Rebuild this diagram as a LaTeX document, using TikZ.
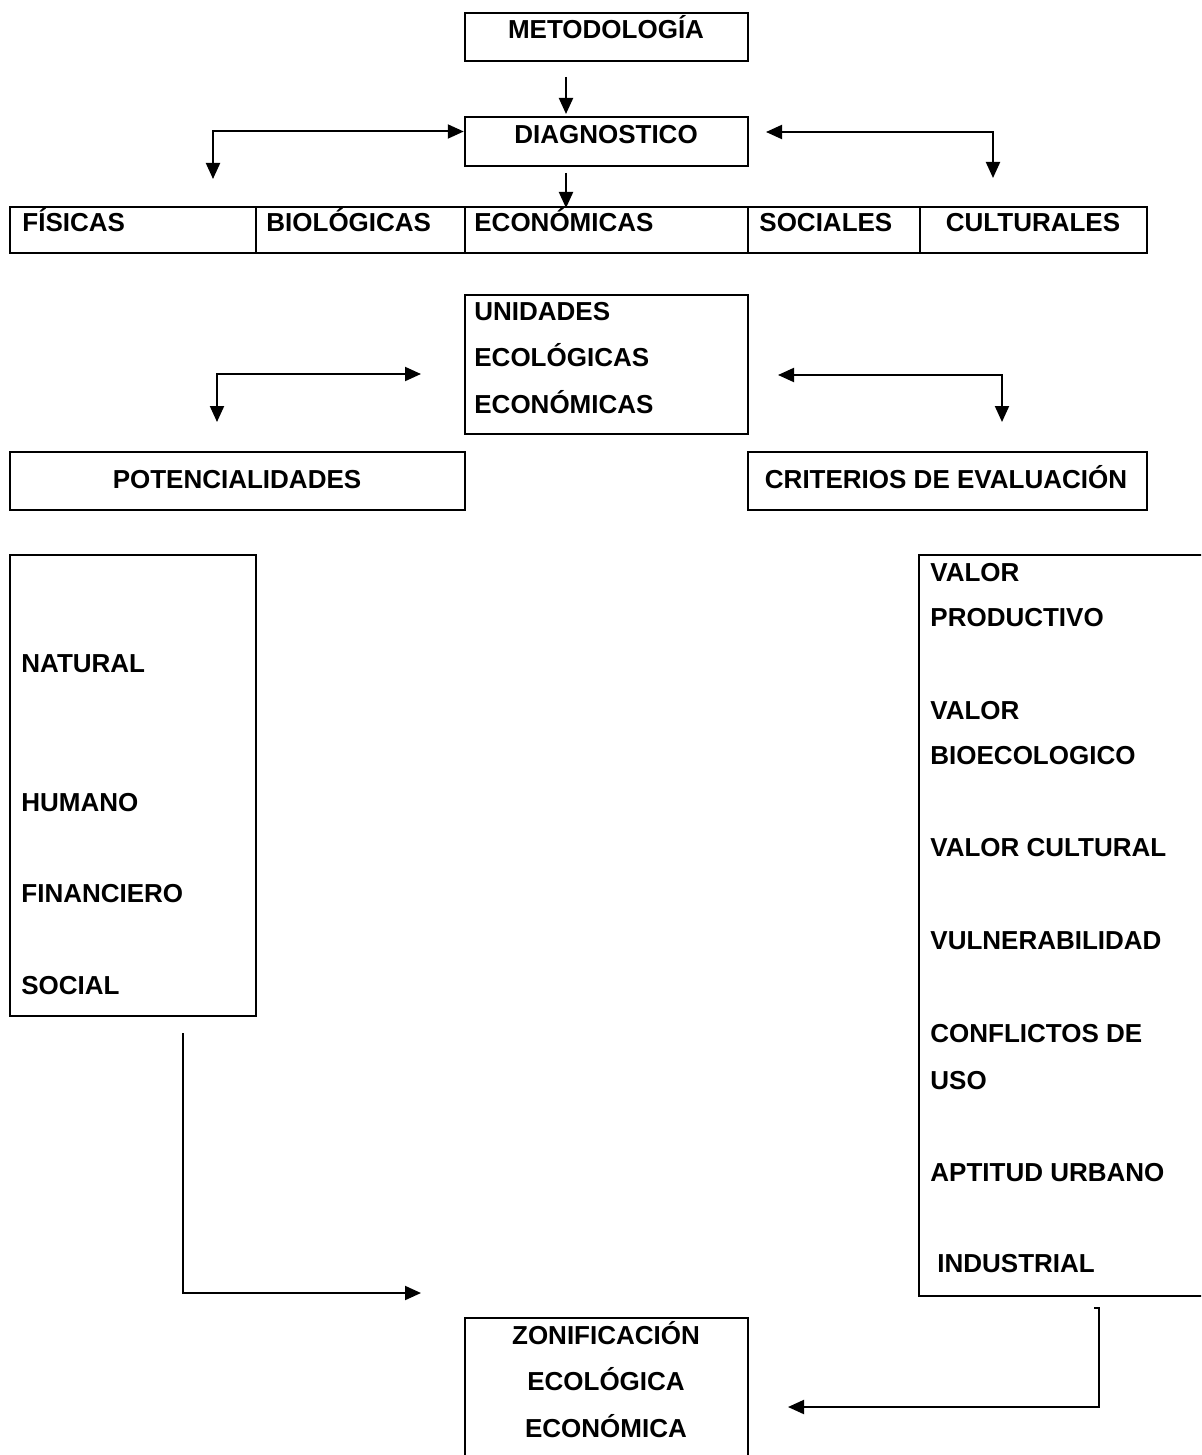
\documentclass[tikz,border=0pt]{standalone}
\usepackage{fontspec}
\setmainfont{Liberation Sans}
\usetikzlibrary{arrows.meta,fit}

\begin{document}
\begin{tikzpicture}[x=0.5pt,y=-0.5pt,
	caja/.style={draw, line width=1.25pt, inner sep=0pt},
	txt/.style={inner sep=0pt, font=\fontsize{13}{15}\selectfont\bfseries, anchor=base west},
	txtc/.style={txt, anchor=base},
	flecha/.style={line width=1pt, -{Triangle[length=8pt,width=7pt]}},
	ambas/.style={line width=1pt, {Triangle[length=8pt,width=7pt]}-{Triangle[length=8pt,width=7pt]}}]

\useasboundingbox (0,0) rectangle (1201,1455);
\clip (0,0) rectangle (1201,1455);

%boxes
\node[caja, fit={(465,13) (748,61)}] (met) {};
\node[caja, fit={(465,117) (748,166)}] (diag) {};
\node[caja, fit={(10,207) (256,253)}] (fis) {};
\node[caja, fit={(256,207) (465,253)}] (bio) {};
\node[caja, fit={(465,207) (748,253)}] (eco) {};
\node[caja, fit={(748,207) (920,253)}] (soc) {};
\node[caja, fit={(920,207) (1147,253)}] (cul) {};
\node[caja, fit={(465,295) (748,434)}] (unid) {};
\node[caja, fit={(10,452) (465,510)}] (pot) {};
\node[caja, fit={(748,452) (1147,510)}] (crit) {};
\node[caja, fit={(10,555) (256,1016)}] (potl) {};
\node[caja, fit={(919,555) (1240,1296)}] (critl) {};
\node[caja, fit={(465,1318) (748,1480)}] (zon) {};

%texts
\node[txtc] (metT) at (606,39) {METODOLOGÍA};
\node[txtc] (diagT) at (606,144) {DIAGNOSTICO};
\node[txt] (fisT) at (22,232) {FÍSICAS};
\node[txt] (bioT) at (266,232) {BIOLÓGICAS};
\node[txt] (ecoT) at (474,232) {ECONÓMICAS};
\node[txt] (socT) at (759,232) {SOCIALES};
\node[txtc] (culT) at (1033,232) {CULTURALES};
\node[txt] (unid1) at (474,320) {UNIDADES};
\node[txt] (unid2) at (474,366) {ECOLÓGICAS};
\node[txt] (unid3) at (474,413) {ECONÓMICAS};
\node[txtc] (potT) at (237,488) {POTENCIALIDADES};
\node[txtc] (critT) at (946,488) {CRITERIOS DE EVALUACIÓN};

\node[txt] (nat) at (21,672) {NATURAL};
\node[txt] (hum) at (21,811) {HUMANO};
\node[txt] (fin) at (21,902) {FINANCIERO};
\node[txt] (soci) at (21,994) {SOCIAL};

\node[txt] (vp1) at (930,581) {VALOR};
\node[txt] (vp2) at (930,626) {PRODUCTIVO};
\node[txt] (vb1) at (930,719) {VALOR};
\node[txt] (vb2) at (930,764) {BIOECOLOGICO};
\node[txt] (vc) at (930,856) {VALOR CULTURAL};
\node[txt] (vul) at (930,949) {VULNERABILIDAD};
\node[txt] (cu1) at (930,1042) {CONFLICTOS DE};
\node[txt] (cu2) at (930,1089) {USO};
\node[txt] (apt) at (930,1181) {APTITUD URBANO};
\node[txt] (ind) at (937,1272) {INDUSTRIAL};

\node[txtc] (zon1) at (606,1344) {ZONIFICACIÓN};
\node[txtc] (zon2) at (606,1390) {ECOLÓGICA};
\node[txtc] (zon3) at (606,1437) {ECONÓMICA};

%free ends of the connectors
\coordinate (m1) at (566,77);
\coordinate (m2) at (566,114);
\coordinate (d1) at (566,173);
\coordinate (d2) at (566,208);
\coordinate (dl) at (213,179);
\coordinate (dr1) at (766,132);
\coordinate (dr) at (993,178);
\coordinate (ul1) at (421,374);
\coordinate (ul) at (217,422);
\coordinate (ur1) at (778,375);
\coordinate (ur) at (1002,422);
\coordinate (pl1) at (183,1033);
\coordinate (pl2) at (421,1293);
\coordinate (cl1) at (1094,1308);
\coordinate (cl2) at (1099,1407);
\coordinate (cl3) at (788,1407);

%connectors
\draw[flecha] (m1) -- (m2);
\draw[flecha] (d1) -- (d2);
\draw[ambas] ([yshift=5pt]diag.west) -| (dl);
\draw[ambas] (dr1) -| (dr);
\draw[ambas] (ul1) -| (ul);
\draw[ambas] (ur1) -| (ur);
\draw[flecha] (pl1) |- (pl2);
\draw[flecha] (cl1) -| (cl2) -- (cl3);
\end{tikzpicture}
\end{document}
